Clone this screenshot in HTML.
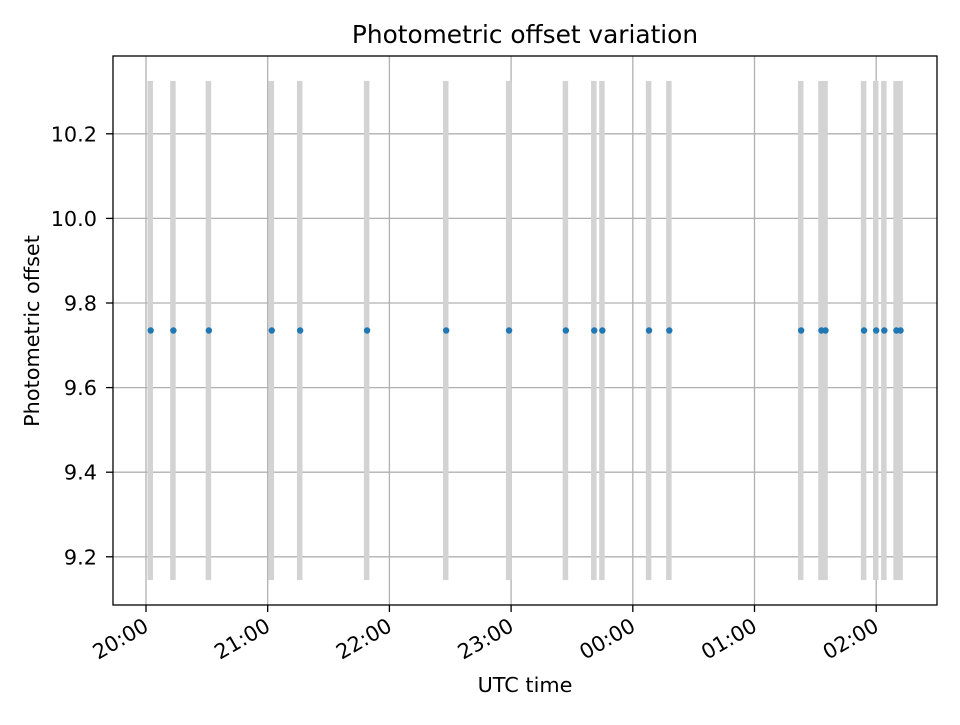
<!DOCTYPE html>
<html><head><meta charset="utf-8"><style>
html,body{margin:0;padding:0;background:#fff}
svg text{font-family:"DejaVu Sans","Liberation Sans",sans-serif;fill:#000}
</style></head><body>
<svg id="chart" width="960" height="720" xmlns="http://www.w3.org/2000/svg">
<rect width="960" height="720" fill="#fff"/>
<g id="grid"></g>
<g id="bars"></g>
<g id="points"></g>
<rect x="113" y="56" width="824" height="549" fill="none" stroke="#000" stroke-width="1.3"/>
<g id="axes"></g>
<text x="525" y="43" font-size="24.8" text-anchor="middle">Photometric offset variation</text>
<text x="525" y="692" font-size="20.8" text-anchor="middle">UTC time</text>
<text x="39" y="331" font-size="20.8" text-anchor="middle" transform="rotate(-90 39 331)">Photometric offset</text>
</svg>
<script>
// minutes after 20:00 UTC
const times = [2.3, 13.5, 31, 62, 76, 109, 148, 179, 207, 221, 225, 248, 258, 323, 333, 335, 354, 360, 364, 370, 372];
const offsets = [9.735, 9.735, 9.735, 9.735, 9.735, 9.735, 9.735, 9.735, 9.735, 9.735, 9.735, 9.735, 9.735, 9.735, 9.735, 9.735, 9.735, 9.735, 9.735, 9.735, 9.735];
const errLow = [9.145, 9.145, 9.145, 9.145, 9.145, 9.145, 9.145, 9.145, 9.145, 9.145, 9.145, 9.145, 9.145, 9.145, 9.145, 9.145, 9.145, 9.145, 9.145, 9.145, 9.145];
const errHigh = [10.325, 10.325, 10.325, 10.325, 10.325, 10.325, 10.325, 10.325, 10.325, 10.325, 10.325, 10.325, 10.325, 10.325, 10.325, 10.325, 10.325, 10.325, 10.325, 10.325, 10.325];
const xTickMinutes = [0, 60, 120, 180, 240, 300, 360];
const xTickLabels = ["20:00", "21:00", "22:00", "23:00", "00:00", "01:00", "02:00"];
const yTicks = [9.2, 9.4, 9.6, 9.8, 10.0, 10.2];
const yTickLabels = ["9.2", "9.4", "9.6", "9.8", "10.0", "10.2"];

const NS = "http://www.w3.org/2000/svg";
const X = m => 146 + (m / 60) * 121.7;
const Y = v => 303 - (v - 9.8) * 423;
function mk(tag, attrs, parent) {
  const e = document.createElementNS(NS, tag);
  for (const k in attrs) e.setAttribute(k, attrs[k]);
  parent.appendChild(e);
  return e;
}
const grid = document.getElementById('grid');
const axes = document.getElementById('axes');
const bars = document.getElementById('bars');
const pts = document.getElementById('points');

xTickMinutes.forEach((m, i) => {
  const x = X(m);
  const g = mk('line', {x1: x, x2: x, y1: 56, y2: 605, stroke: '#b0b0b0', 'stroke-width': 1.3}, grid);
  
  
  const t = mk('line', {x1: x, x2: x, y1: 605, y2: 612, stroke: '#000', 'stroke-width': 1.3}, axes);
  
  
  const lb = mk('text', {x: x + 4, y: 630, 'font-size': 20.8, 'text-anchor': 'end', transform: `rotate(-30 ${x + 4} 630)`}, axes);
  lb.textContent = xTickLabels[i];
  
  
});
yTicks.forEach((v, i) => {
  const y = Y(v);
  const g = mk('line', {x1: 113, x2: 937, y1: y, y2: y, stroke: '#b0b0b0', 'stroke-width': 1.3}, grid);
  
  
  const t = mk('line', {x1: 106, x2: 113, y1: y, y2: y, stroke: '#000', 'stroke-width': 1.3}, axes);
  
  
  const lb = mk('text', {x: 97, y: y + 7.5, 'font-size': 20.8, 'text-anchor': 'end'}, axes);
  lb.textContent = yTickLabels[i];
  
  
});
times.forEach((m, i) => {
  const x = X(m);
  const b = mk('rect', {x: x - 3.2, y: Y(errHigh[i]), width: 5.5, height: Y(errLow[i]) - Y(errHigh[i]), fill: '#d3d3d3'}, bars);
  
  
});
times.forEach((m, i) => {
  const c = mk('circle', {cx: X(m), cy: Y(offsets[i]), r: 3.2, fill: '#1f77b4'}, pts);
  
  
});
</script>
</body></html>
